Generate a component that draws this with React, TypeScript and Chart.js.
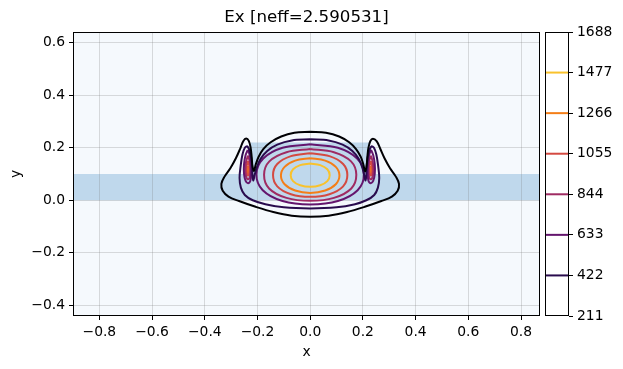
import React, { useEffect, useRef } from "react";
import { Chart, registerables } from "chart.js";

Chart.register(...registerables);

// ---------- data ----------
const titleText = "Ex [neff=2.590531]";
const xLabel = "x";
const yLabel = "y";
const xRange = [-0.9, 0.872];
const yRange = [-0.441, 0.641];
const xTicks = [-0.8, -0.6, -0.4, -0.2, 0.0, 0.2, 0.4, 0.6, 0.8];
const yTicks = [-0.4, -0.2, 0.0, 0.2, 0.4, 0.6];

// contour levels and their inferno colours
const levels = [211, 422, 633, 844, 1055, 1266, 1477, 1688];
const levelColors = ["#000004", "#290b4d", "#64156d", "#9f2b62", "#d44a41", "#f47e17", "#f9c22c", "#fcffa4"];

// waveguide structure (slab + rib), in x/y units
const slabPolygon = [[-1.0, 0.0], [1.0, 0.0], [1.0, 0.1], [-1.0, 0.1]];
const ribPolygon = [[-0.225, 0.1], [0.225, 0.1], [0.225, 0.22], [-0.225, 0.22]];
const backgroundColor = "#f5f9fd";
const coreColor = "#bfd8ec";

// contour lines: [x, y]
const c211 = [[0, 0.261], [-0.06, 0.257], [-0.11, 0.243], [-0.15, 0.221], [-0.178, 0.195], [-0.196, 0.165], [-0.207, 0.135], [-0.213, 0.112], [-0.219, 0.13], [-0.222, 0.165], [-0.226, 0.2], [-0.233, 0.226], [-0.243, 0.235], [-0.254, 0.225], [-0.265, 0.198], [-0.282, 0.16], [-0.303, 0.122], [-0.325, 0.09], [-0.337, 0.062], [-0.332, 0.036], [-0.31, 0.014], [-0.27, -0.003], [-0.21, -0.024], [-0.14, -0.045], [-0.07, -0.059], [0, -0.063], [0.07, -0.059], [0.14, -0.045], [0.21, -0.024], [0.27, -0.003], [0.31, 0.014], [0.332, 0.036], [0.337, 0.062], [0.325, 0.09], [0.303, 0.122], [0.282, 0.16], [0.265, 0.198], [0.252, 0.225], [0.238, 0.234], [0.228, 0.225], [0.221, 0.2], [0.217, 0.165], [0.214, 0.13], [0.208, 0.11], [0.202, 0.135], [0.192, 0.165], [0.174, 0.195], [0.148, 0.221], [0.11, 0.243], [0.06, 0.257], [0, 0.261]];
const c422 = [[0, 0.232], [-0.07, 0.228], [-0.125, 0.212], [-0.163, 0.188], [-0.188, 0.158], [-0.203, 0.124], [-0.211, 0.095], [-0.216, 0.075], [-0.219, 0.095], [-0.221, 0.14], [-0.228, 0.182], [-0.238, 0.205], [-0.248, 0.2], [-0.257, 0.174], [-0.264, 0.13], [-0.268, 0.085], [-0.263, 0.048], [-0.248, 0.02], [-0.218, 0.0], [-0.17, -0.015], [-0.1, -0.027], [0, -0.031], [0.1, -0.027], [0.17, -0.015], [0.213, 0.0], [0.243, 0.02], [0.257, 0.048], [0.262, 0.085], [0.258, 0.13], [0.251, 0.174], [0.242, 0.2], [0.232, 0.205], [0.222, 0.182], [0.215, 0.14], [0.213, 0.095], [0.21, 0.075], [0.205, 0.095], [0.198, 0.124], [0.184, 0.158], [0.16, 0.188], [0.123, 0.212], [0.07, 0.228], [0, 0.232]];
const c633Main = [[0, 0.213], [-0.105, 0.2], [-0.178, 0.159], [-0.204, 0.099], [-0.18, 0.038], [-0.105, -0.003], [0, -0.016], [0.105, -0.003], [0.18, 0.038], [0.204, 0.099], [0.178, 0.159], [0.105, 0.2], [0, 0.213]];
const c633EarL = [[-0.237, 0.192], [-0.245, 0.172], [-0.251, 0.138], [-0.251, 0.1], [-0.245, 0.074], [-0.236, 0.065], [-0.227, 0.074], [-0.224, 0.108], [-0.226, 0.15], [-0.231, 0.177], [-0.237, 0.192]];
const c633EarR = [[0.231, 0.192], [0.239, 0.172], [0.245, 0.138], [0.245, 0.1], [0.239, 0.074], [0.23, 0.065], [0.221, 0.074], [0.218, 0.108], [0.22, 0.15], [0.225, 0.177], [0.231, 0.192]];
const c844Main = [[0, 0.195], [-0.09, 0.183], [-0.155, 0.148], [-0.175, 0.097], [-0.156, 0.045], [-0.09, 0.009], [0, -0.002], [0.09, 0.009], [0.156, 0.045], [0.175, 0.097], [0.155, 0.148], [0.09, 0.183], [0, 0.195]];
const c844EarL = [[-0.236, 0.17], [-0.243, 0.148], [-0.246, 0.115], [-0.243, 0.09], [-0.236, 0.08], [-0.229, 0.09], [-0.227, 0.12], [-0.23, 0.15], [-0.236, 0.17]];
const c844EarR = [[0.23, 0.17], [0.237, 0.148], [0.24, 0.115], [0.237, 0.09], [0.23, 0.08], [0.223, 0.09], [0.221, 0.12], [0.224, 0.15], [0.23, 0.17]];
const c1055EarL = [[-0.236, 0.15], [-0.241, 0.13], [-0.241, 0.105], [-0.236, 0.094], [-0.231, 0.105], [-0.231, 0.13], [-0.236, 0.15]];
const c1055EarR = [[0.23, 0.15], [0.235, 0.13], [0.235, 0.105], [0.23, 0.094], [0.225, 0.105], [0.225, 0.13], [0.23, 0.15]];
const c1055Main = [[0, 0.179], [-0.073, 0.168], [-0.125, 0.138], [-0.141, 0.096], [-0.125, 0.053], [-0.073, 0.023], [0, 0.013], [0.073, 0.023], [0.125, 0.053], [0.141, 0.096], [0.125, 0.138], [0.073, 0.168], [0, 0.179]];
const c1266Main = [[0, 0.16], [-0.057, 0.151], [-0.097, 0.127], [-0.111, 0.094], [-0.097, 0.061], [-0.057, 0.037], [0, 0.028], [0.057, 0.037], [0.097, 0.061], [0.111, 0.094], [0.097, 0.127], [0.057, 0.151], [0, 0.16]];
const c1266EarL = [[-0.236, 0.13], [-0.239, 0.116], [-0.236, 0.104], [-0.233, 0.116], [-0.236, 0.13]];
const c1266EarR = [[0.23, 0.13], [0.233, 0.116], [0.23, 0.104], [0.227, 0.116], [0.23, 0.13]];
const c1477Main = [[0, 0.14], [-0.038, 0.134], [-0.065, 0.118], [-0.074, 0.0955], [-0.065, 0.073], [-0.038, 0.057], [0, 0.051], [0.038, 0.057], [0.065, 0.073], [0.074, 0.0955], [0.065, 0.118], [0.038, 0.134], [0, 0.14]];

// [contour, level index]
const contours: [number[][], number][] = [
  [c211, 0],
  [c422, 1],
  [c633Main, 2], [c633EarL, 2], [c633EarR, 2],
  [c844Main, 3], [c844EarL, 3], [c844EarR, 3],
  [c1055Main, 4], [c1055EarL, 4], [c1055EarR, 4],
  [c1266Main, 5], [c1266EarL, 5], [c1266EarR, 5],
  [c1477Main, 6],
];

// ---------- styling helpers ----------
const FONT = "'DejaVu Sans', 'Liberation Sans', sans-serif";
const TICK_FONT = { family: FONT, size: 13.89 };
const fmt = (v: number) => (v < -1e-9 ? "\u2212" : "") + Math.abs(v).toFixed(1);

const W = 623;
const H = 369;
const BAR_LEFT = 540;

const frame = {
  id: "frame",
  afterDraw(chart: any) {
    const { ctx, chartArea: a } = chart;
    ctx.save();
    ctx.strokeStyle = "#000";
    ctx.lineWidth = 1;
    ctx.strokeRect(a.left + 0.5, a.top + 0.5, a.right - a.left - 1, a.bottom - a.top - 1);
    ctx.restore();
  },
};

const structure = {
  id: "structure",
  beforeDraw(chart: any) {
    const { ctx, chartArea: a, scales } = chart;
    const xs = scales.x;
    const ys = scales.y;
    ctx.save();
    ctx.beginPath();
    ctx.rect(a.left, a.top, a.right - a.left, a.bottom - a.top);
    ctx.clip();
    ctx.fillStyle = backgroundColor;
    ctx.fillRect(a.left, a.top, a.right - a.left, a.bottom - a.top);
    ctx.fillStyle = coreColor;
    for (const poly of [slabPolygon, ribPolygon]) {
      ctx.beginPath();
      poly.forEach(([x, y], i) => {
        const px = xs.getPixelForValue(x);
        const py = ys.getPixelForValue(y);
        if (i === 0) ctx.moveTo(px, py);
        else ctx.lineTo(px, py);
      });
      ctx.closePath();
      ctx.fill();
    }
    ctx.restore();
  },
};

export default function App() {
  const mainRef = useRef<HTMLCanvasElement>(null);
  const barRef = useRef<HTMLCanvasElement>(null);

  useEffect(() => {
    if (!mainRef.current || !barRef.current) return;

    const main = new Chart(mainRef.current, {
      type: "scatter",
      data: {
        datasets: contours.map(([pts, li]) => ({
          data: pts.map(([x, y]) => ({ x, y })),
          showLine: true,
          borderColor: levelColors[li],
          borderWidth: 2,
          pointRadius: 0,
          pointHoverRadius: 0,
          tension: 0.35,
          fill: false,
        })),
      },
      options: {
        responsive: false,
        animation: false,
        events: [],
        layout: { padding: { left: 0, right: W - BAR_LEFT, top: 0, bottom: 0 } },
        plugins: {
          legend: { display: false },
          tooltip: { enabled: false },
          title: {
            display: true,
            text: titleText,
            color: "#000",
            fullSize: false,
            font: { family: FONT, size: 16.67, weight: "normal", lineHeight: 1.2 },
            padding: { top: 8, bottom: 4 },
          },
        },
        scales: {
          x: {
            type: "linear",
            min: xRange[0],
            max: xRange[1],
            afterBuildTicks: (s: any) => {
              s.ticks = xTicks.map((v) => ({ value: v }));
            },
            afterFit: (s: any) => {
              s.height = H - 316;
            },
            ticks: {
              color: "#000",
              font: TICK_FONT,
              padding: 4,
              autoSkip: false,
              maxRotation: 0,
              minRotation: 0,
              callback: (v: any) => fmt(Number(v)),
            },
            grid: {
              color: "rgba(120,120,120,0.25)",
              lineWidth: 1,
              tickLength: 4,
              tickColor: "#000",
              tickWidth: 1,
            },
            border: { display: false },
            title: { display: true, text: xLabel, color: "#000", font: TICK_FONT, padding: { top: 0, bottom: 8 } },
          },
          y: {
            type: "linear",
            min: yRange[0],
            max: yRange[1],
            afterBuildTicks: (s: any) => {
              s.ticks = yTicks.map((v) => ({ value: v }));
            },
            afterFit: (s: any) => {
              s.width = 73;
            },
            ticks: {
              color: "#000",
              font: TICK_FONT,
              padding: 4,
              autoSkip: false,
              callback: (v: any) => fmt(Number(v)),
            },
            grid: {
              color: "rgba(120,120,120,0.25)",
              lineWidth: 1,
              tickLength: 4,
              tickColor: "#000",
              tickWidth: 1,
            },
            border: { display: false },
            title: { display: true, text: yLabel, color: "#000", font: TICK_FONT, padding: { top: 8, bottom: 0 } },
          },
        },
      },
      plugins: [structure, frame],
    } as any);

    const bar = new Chart(barRef.current, {
      type: "scatter",
      data: {
        datasets: levels.map((L, i) => ({
          data: [{ x: 0, y: L }, { x: 1, y: L }],
          showLine: true,
          borderColor: levelColors[i],
          borderWidth: 2,
          pointRadius: 0,
          pointHoverRadius: 0,
          fill: false,
        })),
      },
      options: {
        responsive: false,
        animation: false,
        events: [],
        layout: { padding: { left: 5, right: 0, top: 32, bottom: H - 316 } },
        plugins: { legend: { display: false }, tooltip: { enabled: false }, title: { display: false } },
        scales: {
          x: { type: "linear", min: 0, max: 1, display: false },
          y: {
            type: "linear",
            position: "right",
            min: levels[0],
            max: levels[levels.length - 1],
            afterBuildTicks: (s: any) => {
              s.ticks = levels.map((v) => ({ value: v }));
            },
            afterFit: (s: any) => {
              s.width = 54;
            },
            ticks: { color: "#000", font: TICK_FONT, padding: 4, autoSkip: false, callback: (v: any) => String(v) },
            grid: { drawOnChartArea: false, tickLength: 4, tickColor: "#000", tickWidth: 1 },
            border: { display: false },
          },
        },
      },
      plugins: [frame],
    } as any);

    return () => {
      main.destroy();
      bar.destroy();
    };
  }, []);

  return (
    <div style={{ position: "fixed", left: 0, top: 0, width: W, height: H, background: "#fff" }}>
      <canvas ref={mainRef} width={W} height={H} style={{ position: "absolute", left: 0, top: 0, width: W, height: H }} />
      <canvas
        ref={barRef}
        width={W - BAR_LEFT}
        height={H}
        style={{ position: "absolute", left: BAR_LEFT, top: 0, width: W - BAR_LEFT, height: H }}
      />
    </div>
  );
}
